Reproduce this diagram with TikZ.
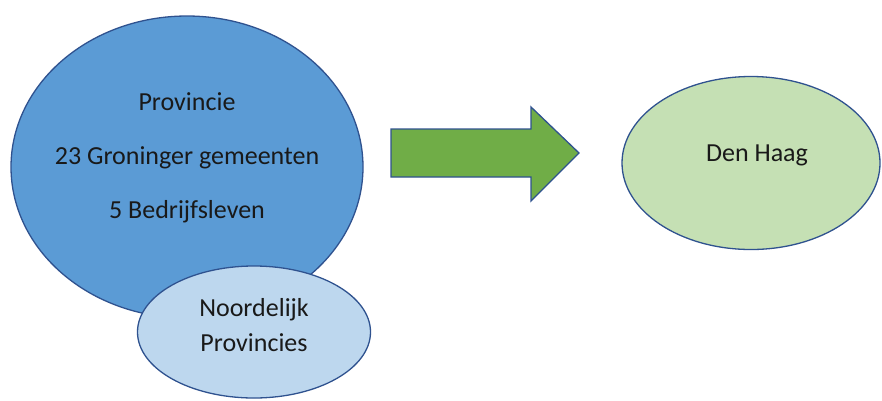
\documentclass[tikz,border=0pt]{standalone}
\usepackage{fontspec}
\setmainfont{Carlito}
\usetikzlibrary{shapes.geometric}
\definecolor{bigblue}{HTML}{5B9BD5}
\definecolor{lightblue}{HTML}{BDD7EE}
\definecolor{lightgreen}{HTML}{C5E0B4}
\definecolor{arrowgreen}{HTML}{70AD47}
\definecolor{edgeblue}{HTML}{2F528F}
\tikzset{
  blob/.style={ellipse, draw=edgeblue, line width=1.3pt, inner sep=0pt},
  lbl/.style={font=\fontsize{26}{35}\selectfont, text=black!90, align=center},
}
\begin{document}
\begin{tikzpicture}[x=1pt,y=-1pt]
\useasboundingbox (0,0) rectangle (882,400);
\node[blob, fill=bigblue, minimum width=352, minimum height=302] (prov) at (187,167) {};
\node[lbl] (t1) at (187,102) {Provincie};
\node[lbl] (t2) at (187,158) {23 Groninger gemeenten};
\node[lbl] (t3) at (187,212) {5 Bedrijfsleven};
\node[blob, fill=lightblue, minimum width=233, minimum height=132] (noord) at (254,332) {};
\node[lbl, text width=200] (nt) at (254,325) {Noordelijk\\Provincies};
\node[blob, fill=lightgreen, minimum width=258, minimum height=173] (haag) at (751,163) {};
\node[lbl] (ht) at (757,155) {Den Haag};
\draw[draw=edgeblue, line width=1.3pt, fill=arrowgreen, line join=miter]
  (391,129) -- (531,129) -- (531,107) -- (579,153) -- (531,201) -- (531,177) -- (391,177) -- cycle;
\end{tikzpicture}
\end{document}
